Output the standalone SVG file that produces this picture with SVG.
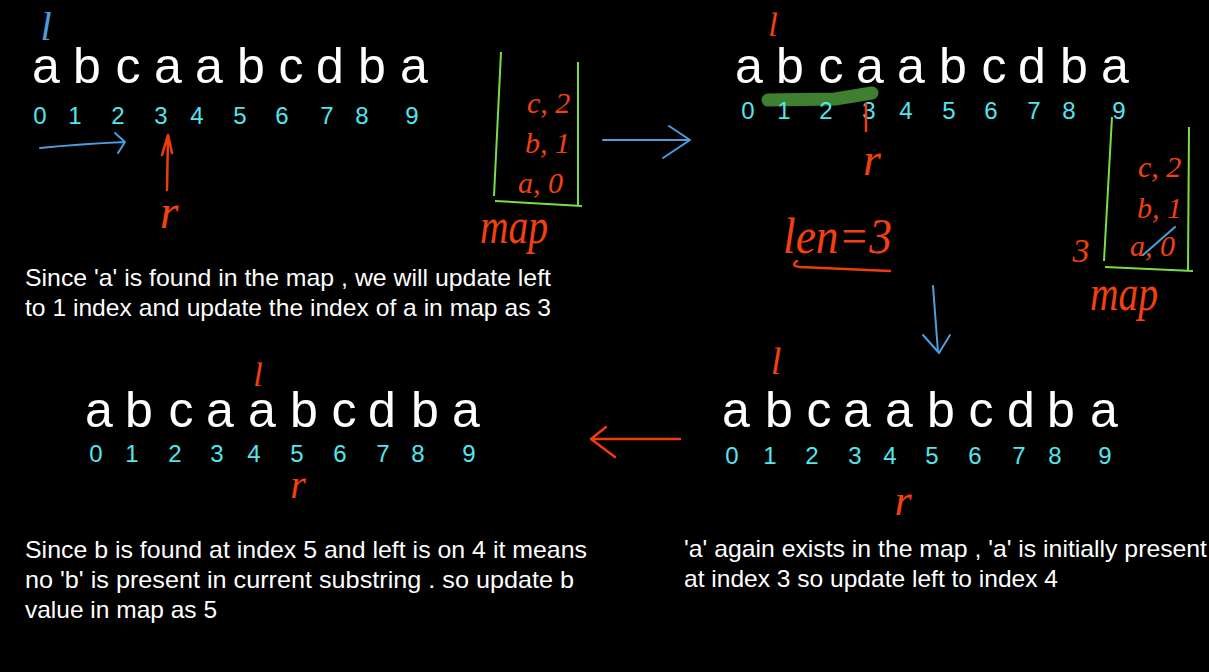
<svg xmlns="http://www.w3.org/2000/svg" width="1209" height="672" viewBox="0 0 1209 672">
<style>
.big{font-family:"Liberation Sans",Arial,sans-serif;font-size:50px;fill:#fff;text-anchor:middle}
.idx{font-family:"Liberation Sans",Arial,sans-serif;font-size:24px;fill:#52e6ee;text-anchor:middle}
.note{font-family:"Liberation Sans",Arial,sans-serif;font-size:24px;fill:#fff}
.hand{font-family:"Liberation Serif","DejaVu Serif",serif;font-style:italic;fill:#f2400f}
.handb{font-family:"Liberation Serif","DejaVu Serif",serif;font-style:italic;fill:#4a9ee0}
.sb{stroke:#4b9fe0;stroke-width:2;fill:none;stroke-linecap:round;stroke-linejoin:round}
.sr{stroke:#f03c0c;stroke-width:2.5;fill:none;stroke-linecap:round;stroke-linejoin:round}
.box{stroke:#79dd48;stroke-width:2;fill:none}
</style>
<rect x="0" y="0" width="1209" height="672" fill="#000"/>

<g id="step1">
  <text class="handb" x="46" y="40" font-size="40" text-anchor="middle">l</text>
  <text class="big" x="46 87 128 168 209 251 291 330 372 414" y="83">abcaabcdba</text>
  <text class="idx" x="40 75 118 161 197 240 282 327 362 412" y="124">0123456789</text>
  <text class="hand" x="169" y="228" font-size="48" text-anchor="middle">r</text>
</g>

<g id="map1">
  <path class="box" d="M501 52 L494 196 M495 201 L582 206 M578 62 L578 205"/>
  <text class="hand" x="527" y="113" font-size="30">c, 2</text>
  <text class="hand" x="525" y="153" font-size="30">b, 1</text>
  <text class="hand" x="518" y="193" font-size="30">a, 0</text>
  <text class="hand" x="480" y="243" font-size="50" textLength="68" lengthAdjust="spacingAndGlyphs">map</text>
</g>

<g id="step2">
  <path d="M768 100 L835 99 L872 93" stroke="#3f8030" stroke-width="13" fill="none" stroke-linecap="round" stroke-linejoin="round"/>
  <text class="hand" x="773" y="36" font-size="34" text-anchor="middle">l</text>
  <text class="big" x="749 790 831 870 911 953 994 1032 1074 1115" y="83">abcaabcdba</text>
  <text class="idx" x="748 784 826 869 906 949 991 1034 1069 1119" y="119">0123456789</text>
  <path class="sr" d="M866 104 L866 131"/>
  <text class="hand" x="872" y="175" font-size="46" text-anchor="middle">r</text>
  <text class="hand" x="783" y="253" font-size="50" textLength="109" lengthAdjust="spacingAndGlyphs">len=3</text>
</g>

<g id="map2">
  <path class="box" d="M1112 117 L1104 261 M1105 267 L1193 271 M1189 127 L1188 270"/>
  <text class="hand" x="1138" y="177" font-size="30">c, 2</text>
  <text class="hand" x="1137" y="218" font-size="30">b, 1</text>
  <text class="hand" x="1130" y="256" font-size="30">a, 0</text>
  <path class="sb" d="M1143 255 L1175 227"/>
  <text class="hand" x="1081" y="262" font-size="34" text-anchor="middle">3</text>
  <text class="hand" x="1090" y="310" font-size="50" textLength="68" lengthAdjust="spacingAndGlyphs">map</text>
</g>

<g id="step3">
  <text class="hand" x="776" y="374" font-size="38" text-anchor="middle">l</text>
  <text class="big" x="736 779 819 857 899 941 981 1021 1061 1104" y="427">abcaabcdba</text>
  <text class="idx" x="732 770 812 855 890 932 975 1019 1055 1105" y="464">0123456789</text>
  <text class="hand" x="903" y="515" font-size="44" text-anchor="middle">r</text>
</g>

<g id="step4">
  <text class="hand" x="258" y="386" font-size="34" text-anchor="middle">l</text>
  <text class="big" x="99 139 181 220 262 304 344 382 425 466" y="427">abcaabcdba</text>
  <text class="idx" x="96 132 175 217 254 297 340 383 418 469" y="462">0123456789</text>
  <text class="hand" x="298" y="498" font-size="40" text-anchor="middle">r</text>
</g>

<g id="notes">
  <text class="note" x="25" y="286" textLength="526" lengthAdjust="spacingAndGlyphs">Since 'a' is found in the map , we will update left</text>
  <text class="note" x="25" y="316" textLength="526" lengthAdjust="spacingAndGlyphs">to 1 index and update the index of a in map as 3</text>
  <text class="note" x="25" y="558" textLength="562" lengthAdjust="spacingAndGlyphs">Since b is found at index 5 and left is on 4 it means</text>
  <text class="note" x="25" y="588" textLength="549" lengthAdjust="spacingAndGlyphs">no 'b' is present in current substring . so update b</text>
  <text class="note" x="25" y="618" textLength="192" lengthAdjust="spacingAndGlyphs">value in map as 5</text>
  <text class="note" x="684" y="557" textLength="523" lengthAdjust="spacingAndGlyphs">'a' again exists in the map , 'a' is initially present</text>
  <text class="note" x="684" y="587" textLength="374" lengthAdjust="spacingAndGlyphs">at index 3 so update left to index 4</text>
</g>

<g id="connectors">
  <path class="sb" d="M40 148 Q80 144 125 142 M115 133 L125 142 L118 153"/>
  <path class="sr" d="M167 190 L168 135 M162 155 L168 135 L172 153"/>
  <path class="sb" d="M603 140 L690 140 M669 126 L690 140 L663 158"/>
  <path class="sr" d="M797 261 Q790 266 800 267 L890 271"/>
  <path class="sb" d="M933 286 L938 352 M923 335 L939 353 L950 335"/>
  <path class="sr" d="M680 439 L591 439 M606 427 L591 439 L615 457"/>
</g>
</svg>
